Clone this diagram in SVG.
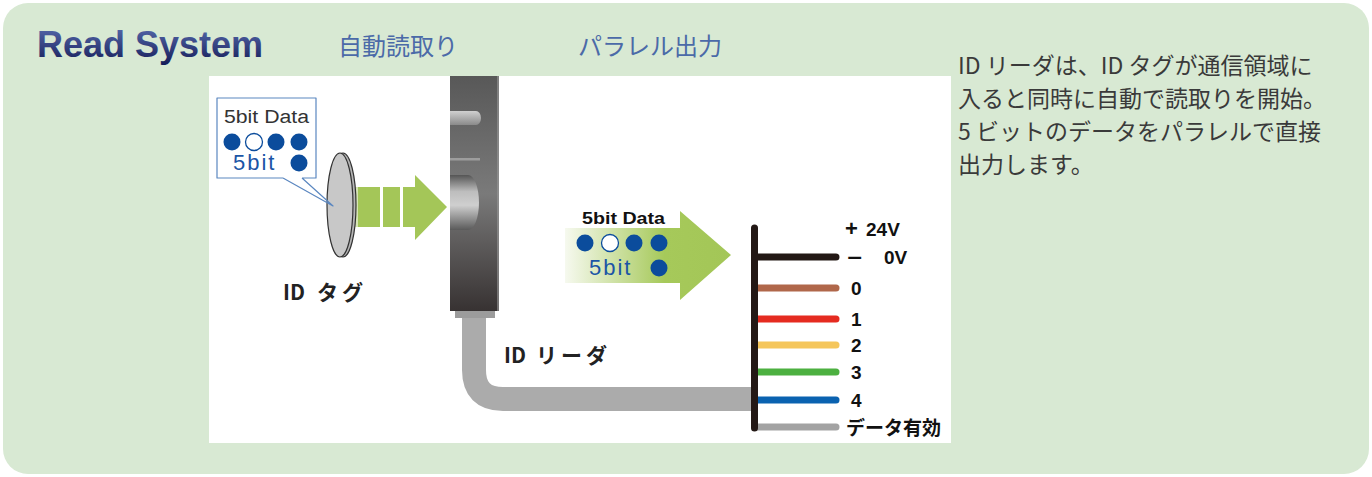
<svg xmlns="http://www.w3.org/2000/svg" width="1372" height="477" viewBox="0 0 1372 477">
  <style>
    .jp { font-family: "Noto Sans CJK JP", "Liberation Sans", sans-serif; }
    .lat { font-family: "Liberation Sans", Arial, sans-serif; }
    .head { font-size: 24px; fill: #4b6aa8; }
    .desc { font-size: 23px; fill: #3a3a3a; }
    .lbl { font-size: 21px; font-weight: bold; fill: #222; }
    .pin { font-family: "Liberation Sans", Arial, sans-serif; font-size: 19px; font-weight: bold; fill: #111; }
    .wire { stroke-width: 7; stroke-linecap: round; fill: none; }
    .dot { fill: #0b4c9c; }
    .hole { fill: #fff; stroke: #0b4c9c; stroke-width: 1.3; }
    .bits { fill: #1b55a6; font-size: 22px; letter-spacing: 2px; }
  </style>
  <defs>
    <linearGradient id="titleGrad" x1="0" y1="0" x2="0" y2="1">
      <stop offset="0" stop-color="#5a6eb0"/>
      <stop offset="1" stop-color="#141c58"/>
    </linearGradient>
    <linearGradient id="bodyGrad" x1="0" y1="0" x2="0" y2="1">
      <stop offset="0" stop-color="#585858"/>
      <stop offset="0.5" stop-color="#7a7a7a"/>
      <stop offset="1" stop-color="#373232"/>
    </linearGradient>
    <linearGradient id="lensGrad" x1="0" y1="0" x2="0" y2="1">
      <stop offset="0" stop-color="#555"/>
      <stop offset="0.3" stop-color="#bdbdbd"/>
      <stop offset="0.55" stop-color="#cfcfcf"/>
      <stop offset="1" stop-color="#5a5a5a"/>
    </linearGradient>
    <linearGradient id="barGrad" x1="0" y1="0" x2="0" y2="1">
      <stop offset="0" stop-color="#d0d0d0"/>
      <stop offset="1" stop-color="#8a8a8a"/>
    </linearGradient>
    <linearGradient id="dataGrad" x1="565" y1="0" x2="731" y2="0" gradientUnits="userSpaceOnUse">
      <stop offset="0" stop-color="#f6f9ef"/>
      <stop offset="0.6" stop-color="#a6c95a"/>
      <stop offset="1" stop-color="#a3c657"/>
    </linearGradient>
  </defs>

  <!-- outer panel -->
  <rect x="3" y="3" width="1366" height="471" rx="25" fill="#d8e9d3"/>
  <!-- drawing area -->
  <rect x="209" y="76" width="742" height="367" fill="#ffffff"/>

  <!-- headings -->
  <text x="37" y="57" class="lat" font-size="36" font-weight="bold" fill="url(#titleGrad)">Read System</text>
  <text x="338" y="55" class="jp head">自動読取り</text>
  <text x="578" y="55" class="jp head">パラレル出力</text>

  <!-- description -->
  <g id="description" class="jp desc">
    <text x="958" y="74">ID リーダは、ID タグが通信領域に</text>
    <text x="958" y="107">入ると同時に自動で読取りを開始。</text>
    <text x="958" y="140">5 ビットのデータをパラレルで直接</text>
    <text x="958" y="173">出力します。</text>
  </g>

  <!-- connectors: wireless link, cable and output wires -->
  <g id="connectors">
    <!-- striped arrow from tag to reader -->
    <rect x="347" y="187" width="11" height="40" fill="#a4c658" opacity="0.45"/>
    <rect x="358" y="187" width="22" height="40" fill="#a4c658"/>
    <rect x="383" y="187" width="17" height="40" fill="#a4c658"/>
    <path d="M403,187 H415 V175 L447,207 L415,240 V227 H403 Z" fill="#a4c658"/>

    <!-- reader cable -->
    <path d="M474,316 V370 Q474,399 503,399 H752" fill="none" stroke="#ababab" stroke-width="24"/>

    <!-- parallel output arrow -->
    <path d="M565,228 H680 V211 L731,255 L680,300 V283 H565 Z" fill="url(#dataGrad)"/>

    <!-- output wires -->
    <line x1="755" y1="257" x2="836" y2="257" class="wire" stroke="#231815" stroke-width="8"/>
    <line x1="755" y1="288" x2="836" y2="288" class="wire" stroke="#b0674a"/>
    <line x1="755" y1="319" x2="836" y2="319" class="wire" stroke="#e52b20"/>
    <line x1="755" y1="345" x2="836" y2="345" class="wire" stroke="#f5c65b"/>
    <line x1="755" y1="372" x2="836" y2="372" class="wire" stroke="#4cb040"/>
    <line x1="755" y1="400" x2="836" y2="400" class="wire" stroke="#0a62b0"/>
    <line x1="755" y1="427" x2="836" y2="427" class="wire" stroke="#a3a3a3"/>
    <!-- bus -->
    <line x1="754.5" y1="228" x2="754.5" y2="428" stroke="#231815" stroke-width="7" stroke-linecap="round"/>
  </g>

  <!-- ID tag -->
  <g id="tag">
    <ellipse cx="343" cy="205" rx="13" ry="52" fill="#b5b5b5" stroke="#333" stroke-width="1.2"/>
    <ellipse cx="340" cy="205" rx="13" ry="52" fill="#c8c8c8" stroke="#333" stroke-width="1.2"/>
    <text class="jp lbl"><tspan x="283" y="300">ID</tspan><tspan x="317" y="300" letter-spacing="4">タグ</tspan></text>
  </g>

  <!-- callout for tag data -->
  <g id="tag-data">
    <rect x="217" y="98" width="99" height="80" fill="#fff"/>
    <path d="M302,178 H316 V98 H217 V178 H283 M302,178 L333,206 L283,178" fill="none" stroke="#5b87c0" stroke-width="1.2" stroke-linejoin="round"/>
    <text x="224" y="123" class="lat" font-size="18" fill="#333" textLength="85" lengthAdjust="spacingAndGlyphs">5bit Data</text>
    <circle cx="232" cy="142" r="8.5" class="dot"/>
    <circle cx="254" cy="142" r="8.5" class="hole"/>
    <circle cx="276" cy="142" r="8.5" class="dot"/>
    <circle cx="299" cy="142" r="8.5" class="dot"/>
    <text x="233" y="170" class="lat bits">5bit</text>
    <circle cx="299" cy="163" r="8.5" class="dot"/>
  </g>

  <!-- ID reader -->
  <g id="reader">
    <rect x="450" y="76" width="49" height="235" fill="url(#bodyGrad)"/>
    <rect x="497" y="76" width="2" height="235" fill="#9a9a9a" opacity="0.6"/>
    <path d="M450,111 H476 A5,7 0 0 1 476,125 H450 Z" fill="url(#barGrad)"/>
    <rect x="450" y="158" width="30" height="2.5" fill="#9d9d9d"/>
    <path d="M450,175 H468 A11,27.5 0 0 1 468,230 H450 Z" fill="url(#lensGrad)"/>
    <rect x="455" y="311" width="40" height="7" fill="#9c9c9c"/>
    <text class="jp lbl"><tspan x="504" y="363">ID</tspan><tspan x="536" y="363" letter-spacing="4">リーダ</tspan></text>
  </g>

  <!-- parallel data label -->
  <g id="output-data">
    <text x="582" y="224" class="lat" font-size="17" font-weight="bold" fill="#111" textLength="83" lengthAdjust="spacingAndGlyphs">5bit Data</text>
    <circle cx="585" cy="243" r="8.5" class="dot"/>
    <circle cx="610" cy="243" r="8.5" class="hole"/>
    <circle cx="634" cy="243" r="8.5" class="dot"/>
    <circle cx="659" cy="243" r="8.5" class="dot"/>
    <text x="589" y="275" class="lat bits">5bit</text>
    <circle cx="659" cy="268" r="8.5" class="dot"/>
  </g>

  <!-- wire labels -->
  <g id="pins">
    <text x="845" y="236" class="pin" font-size="22" style="font-size:22px">+</text>
    <text x="866" y="236" class="pin">24V</text>
    <text x="847" y="264" class="pin" textLength="15" lengthAdjust="spacingAndGlyphs">−</text>
    <text x="884" y="264" class="pin">0V</text>
    <text x="851" y="295" class="pin">0</text>
    <text x="851" y="326" class="pin">1</text>
    <text x="851" y="352" class="pin">2</text>
    <text x="851" y="379" class="pin">3</text>
    <text x="851" y="407" class="pin">4</text>
    <text x="846" y="435" class="jp" font-size="19" font-weight="bold" fill="#111">データ有効</text>
  </g>
</svg>
